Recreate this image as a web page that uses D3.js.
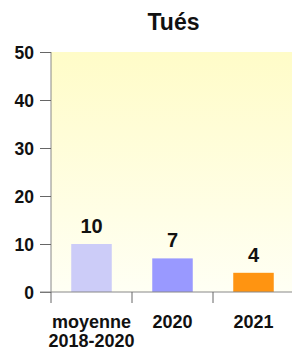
<!DOCTYPE html>
<html><head><meta charset="utf-8">
<script src="https://cdn.jsdelivr.net/npm/d3@7"></script>
<style>body{margin:0;background:#fff}svg{display:block;font-family:"Liberation Sans",Arial,sans-serif}</style>
</head><body>
<script>
const categories = [["moyenne","2018-2020"],["2020"],["2021"]];
const values = [10, 7, 4];
const colors = ["#ccccf8", "#9999ff", "#ff9411"];
const yTicks = [0, 10, 20, 30, 40, 50];
const title = "Tués";

const W = 292, H = 350;
const m = {left: 51, right: -2, top: 52, bottom: 58};
const svg = d3.select("body").append("svg").attr("width", W).attr("height", H);
const defs = svg.append("defs");
const g = defs.append("linearGradient").attr("id","bg").attr("x1",0).attr("y1",0).attr("x2",0).attr("y2",1);
g.append("stop").attr("offset","0%").attr("stop-color","#fffcc8");
g.append("stop").attr("offset","100%").attr("stop-color","#fffff4");

const x = d3.scaleBand().domain(d3.range(values.length)).range([m.left, W - m.right]).paddingInner(0).paddingOuter(0);
const y = d3.scaleLinear().domain([0, 50]).range([H - m.bottom, m.top]);

svg.append("rect").attr("x", m.left).attr("y", y(50)).attr("width", W - m.left).attr("height", y(0) - y(50)).attr("fill", "url(#bg)");

svg.append("text").attr("x", 173.5).attr("y", 30).attr("text-anchor","middle")
  .attr("font-size", 23).attr("font-weight","bold").attr("fill","#111").text(title);

// bars
const bw = x.bandwidth() * 0.5;
svg.selectAll("rect.bar").data(values).join("rect").attr("class","bar")
  .attr("x", (d,i) => x(i) + x.bandwidth()/2 - bw/2)
  .attr("y", d => y(d)).attr("width", bw).attr("height", d => y(0) - y(d))
  .attr("fill", (d,i) => colors[i]);

svg.selectAll("text.val").data(values).join("text").attr("class","val")
  .attr("x", (d,i) => x(i) + x.bandwidth()/2).attr("y", d => y(d) - 11)
  .attr("text-anchor","middle").attr("font-size", 20).attr("font-weight","bold").attr("fill","#111")
  .text(d => d);

// y axis
const ya = svg.append("g").attr("transform", `translate(${m.left},0)`)
  .call(d3.axisLeft(y).tickValues(yTicks).tickSize(11).tickPadding(6));
ya.select(".domain").attr("d", `M0,${y(50)}V${y(0)}`).attr("stroke","#888");
ya.selectAll(".tick line").attr("stroke","#666");
ya.selectAll(".tick text").attr("font-size", 17.5).attr("font-weight","bold").attr("fill","#111")
  .attr("font-family","Liberation Sans, Arial, sans-serif").attr("dy","0.35em");

// x axis
const xa = svg.append("g").attr("transform", `translate(0,${y(0)})`);
xa.append("path").attr("d", `M${m.left - 11},0H${W}`).attr("stroke","#888").attr("fill","none");
const xt = d3.range(values.length + 1).map(i => m.left + i * x.bandwidth());
xa.selectAll("line.xt").data(xt).join("line").attr("class","xt")
  .attr("x1", d => d).attr("x2", d => d).attr("y1", 0).attr("y2", 11).attr("stroke","#666");
const lab = xa.selectAll("text.cat").data(categories).join("text").attr("class","cat")
  .attr("text-anchor","middle").attr("font-size", 18).attr("font-weight","bold").attr("fill","#111");
lab.each(function(d, i) {
  const t = d3.select(this);
  d.forEach((s, k) => t.append("tspan").attr("x", x(i) + x.bandwidth()/2).attr("y", 36 + k*19).text(s));
});
</script>
</body></html>
